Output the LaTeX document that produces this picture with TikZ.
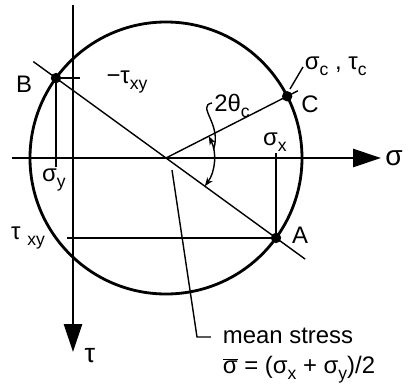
\documentclass[tikz,border=0pt]{standalone}
\usepackage{fontspec}
\setmainfont{Liberation Sans}
\usetikzlibrary{arrows.meta}
\newcommand{\lowsub}[1]{\raisebox{-0.45ex}{\fontsize{12.5}{14}\selectfont #1}}

\begin{document}
\begin{tikzpicture}[
	axis/.style={line width=2pt, -{Triangle[length=7mm,width=4.5mm]}},
	fine/.style={line width=1pt},
	every node/.style={font=\fontsize{17}{20}\selectfont}
]
	\useasboundingbox (-4.15,-5.8) rectangle (6.15,3.95);

	\coordinate (O) at (0,0);
	\coordinate (B) at (144:3.4);
	\coordinate (A) at (-36:3.4);
	\coordinate (C) at (27:3.4);

	% axes
	\coordinate (sl) at (-3.85,0);
	\coordinate (sr) at (5.375,0);
	\coordinate (tt) at (-2.325,3.825);
	\coordinate (tb) at (-2.325,-4.85);
	\draw[axis] (sl) -- (sr);
	\draw[axis] (tt) -- (tb);
	\node[right, inner sep=1mm] (sig) at (sr) {\fontsize{20}{22}\selectfont σ};
	\node (tau) at (-1.9,-4.95) {\fontsize{19}{22}\selectfont τ};

	\draw[line width=2pt] (O) circle (3.4);

	% diameter and line to C
	\coordinate (Bx) at (144:4.1);
	\coordinate (Ax) at (-36:4.3);
	\coordinate (Cx) at (27:3.7);
	\draw[fine] (Bx) -- (Ax);
	\draw[fine] (O) -- (Cx);

	% projections
	\coordinate (sye) at (0,-0.225);
	\coordinate (tke) at (-2.15,0);
	\coordinate (sxe) at (0,0.125);
	\coordinate (txe) at (-2.475,0);
	\draw[fine] (B) -- (B |- sye);
	\draw[fine] (B) -- (B -| tke);
	\draw[fine] (A) -- (A |- sxe);
	\draw[fine] (A) -- (A -| txe);

	\fill (B) circle (0.13);
	\fill (A) circle (0.13);
	\fill (C) circle (0.13);

	\node (lB) at (-3.55,1.85) {B};
	\node (lC) at (3.6,1.35) {C};
	\node (lA) at (3.35,-1.925) {A};
	\node (sx) at (2.725,0.4) {σ\lowsub{x}};
	\node (sy) at (-2.8,-0.55) {σ\lowsub{y}};
	\node (mtxy) at (-0.975,1.9) {−τ\lowsub{xy}};
	\node (txy) at (-3.45,-2.0) {τ \lowsub{xy}};

	% angle 2 theta_c
	\draw[fine, {Stealth[length=2.2mm]}-{Stealth[length=2.2mm]}] (27:1.2) arc (27:-36:1.2);
	\node (th) at (1.65,1.3) {2θ\lowsub{c}};
	\draw[fine] (1.15,1.375) .. controls (0.75,1.3) and (1.4,0.85) .. (1.19,0.22);

	% point C values
	\coordinate (ca) at (3.1,1.725);
	\coordinate (cb) at (3.425,2.275);
	\draw[fine] (ca) -- (cb);
	\node[right] (sc) at (3.35,2.3) {σ\lowsub{c} , τ\lowsub{c}};

	% mean stress
	\coordinate (m0) at (0.15,-0.3);
	\coordinate (m1) at (0.775,-4.475);
	\coordinate (m2) at (1.125,-4.475);
	\draw[fine] (m0) -- (m1) -- (m2);
	\node[right] (ms) at (1.3,-4.45) {mean stress};
	\node[right] (mf) at (1.3,-5.3) {$\overline{\hbox{σ}}$ = (σ\lowsub{x} + σ\lowsub{y})/2};
\end{tikzpicture}
\end{document}
